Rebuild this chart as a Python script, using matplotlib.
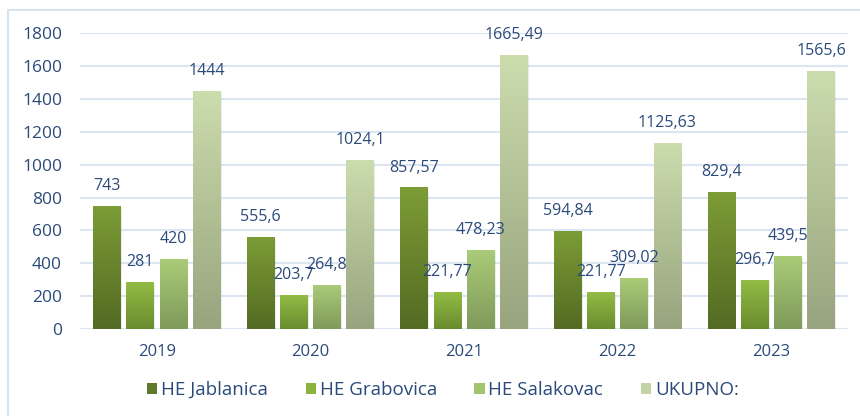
import numpy as np
import matplotlib
matplotlib.use("Agg")
import matplotlib.pyplot as plt
from matplotlib.colors import LinearSegmentedColormap
from matplotlib.patches import Rectangle, Patch

plt.rcParams['font.family'] = ['Open Sans', 'DejaVu Sans']

# data
years = ['2019', '2020', '2021', '2022', '2023']
series = ['HE Jablanica', 'HE Grabovica', 'HE Salakovac', 'UKUPNO:']
jablanica = [743, 555.6, 857.57, 594.84, 829.4]
grabovica = [281, 203.7, 221.77, 221.77, 296.7]
salakovac = [420, 264.8, 478.23, 309.02, 439.5]
ukupno = [1444, 1024.1, 1665.49, 1125.63, 1565.6]

# (top colour, bottom colour, legend colour)
colors = [
    ('#7c9c36', '#536b23', '#5f7a2a'),
    ('#92bc45', '#6a8c2e', '#8ab43e'),
    ('#aacb78', '#7f9a5a', '#a3c46f'),
    ('#cbdcad', '#98a47e', '#c3d3a6'),
]
text_col = '#2b4a7a'
grid_col = '#dce6f2'

fig = plt.figure(figsize=(8.6, 4.16), dpi=100)
ax = fig.add_axes([80 / 860, 0.209, 768 / 860, 0.7115])

# light frame around the chart
fig.patches.append(Rectangle((8 / 860, -0.05), 1.0, 1 - 10 / 416 + 0.05,
                             transform=fig.transFigure, fill=False,
                             edgecolor='#d6e4f2', linewidth=1.5))

x = np.arange(len(years))
pitch = 0.216
width = 0.18
grad = np.linspace(0, 1, 100).reshape(-1, 1)

for i, vals in enumerate([jablanica, grabovica, salakovac, ukupno]):
    top, bottom, _ = colors[i]
    cmap = LinearSegmentedColormap.from_list('c%d' % i, [bottom, top])
    pos = x + (i - 1.5) * pitch
    for xp, v in zip(pos, vals):
        # soft shadow
        ax.add_patch(Rectangle((xp - width / 2 + 0.008, -6), width, v,
                               facecolor='#000000', alpha=0.07, zorder=2,
                               linewidth=0))
        ax.imshow(grad, extent=(xp - width / 2, xp + width / 2, 0, v),
                  origin='lower', cmap=cmap, aspect='auto', zorder=3)
        lbl = ('%g' % v).replace('.', ',')
        ax.annotate(lbl, (xp, v), xytext=(0, 9), textcoords='offset points',
                    ha='center', va='bottom', fontsize=11.5, color=text_col,
                    zorder=4)

ax.set_xlim(-0.5, 4.5)
ax.set_ylim(0, 1800)
ax.set_yticks(range(0, 1801, 200))
ax.set_xticks(x)
ax.set_xticklabels(years)
ax.grid(axis='y', color=grid_col, linewidth=1.5, zorder=0)
ax.set_axisbelow(True)
for s in ax.spines.values():
    s.set_visible(False)
ax.tick_params(axis='y', length=0, pad=13, labelsize=12.5, labelcolor=text_col)
ax.tick_params(axis='x', length=0, pad=11, labelsize=12, labelcolor=text_col)

handles = [Patch(facecolor=c[2], label=s) for c, s in zip(colors, series)]
fig.legend(handles=handles, loc='center', bbox_to_anchor=(0.515, 0.063),
           ncol=4, frameon=False, fontsize=13.5, handlelength=0.55,
           handleheight=0.55, handletextpad=0.2, columnspacing=2.0,
           labelcolor=text_col)

fig.savefig('out.png', dpi=100)
